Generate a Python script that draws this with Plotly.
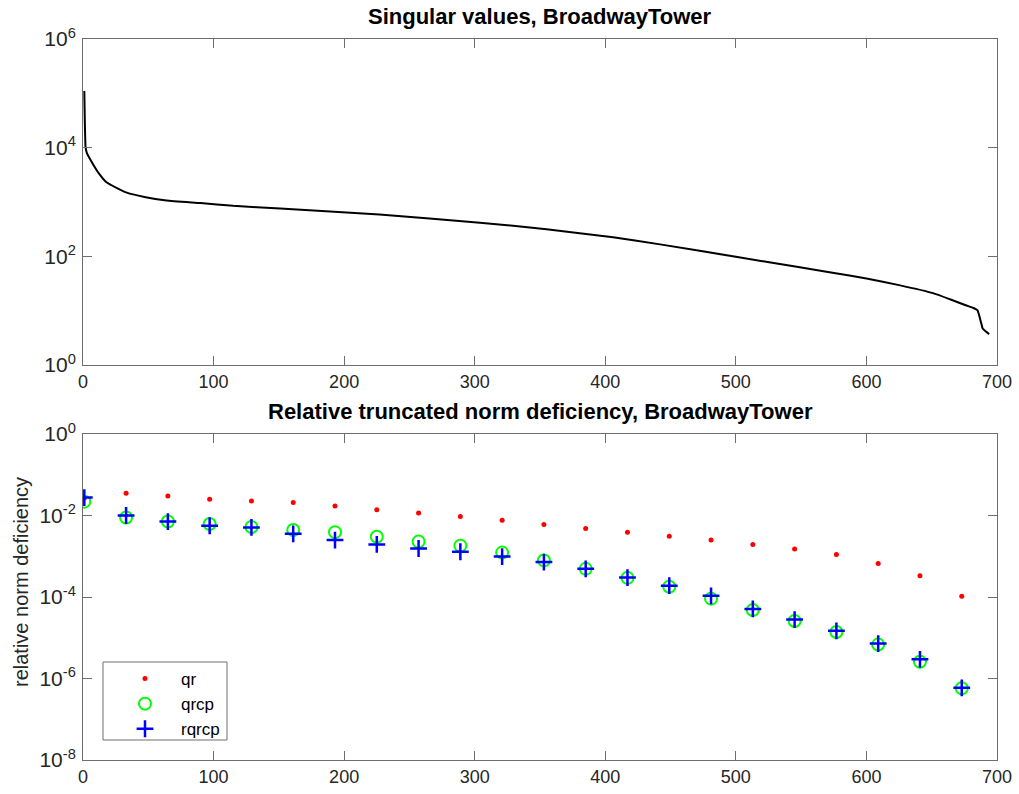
import plotly.graph_objects as go

# ---- data ----
sv_index = [1, 2, 3, 8, 12, 18, 26, 33, 48, 64, 90, 115, 151, 227, 304, 355,
            406, 442, 500, 549, 574, 600, 625, 651, 664, 676, 682, 685, 688,
            689, 694]
sv_values = [1.1e5, 1.0e4, 7.9e3, 4.8e3, 3.4e3, 2.3e3, 1.8e3, 1.5e3, 1.22e3,
             1.07e3, 955, 850, 760, 590, 417, 316, 224, 166, 98, 63, 50, 39,
             29.5, 21, 16.2, 12.6, 11.2, 10.2, 5.8, 4.7, 3.7]

rank_k = [1, 33, 65, 97, 129, 161, 193, 225, 257, 289, 321, 353, 385, 417,
          449, 481, 513, 545, 577, 609, 641, 673]
qr = [2.7e-2, 3.5e-2, 3.0e-2, 2.5e-2, 2.26e-2, 2.09e-2, 1.70e-2, 1.38e-2,
      1.15e-2, 9.5e-3, 7.6e-3, 6.0e-3, 4.8e-3, 3.9e-3, 3.1e-3, 2.5e-3,
      1.95e-3, 1.51e-3, 1.10e-3, 6.6e-4, 3.3e-4, 1.05e-4]
qrcp = [2.19e-2, 8.9e-3, 7.1e-3, 6.2e-3, 5.2e-3, 4.4e-3, 3.9e-3, 3.0e-3,
        2.29e-3, 1.82e-3, 1.23e-3, 7.9e-4, 4.9e-4, 2.95e-4, 1.78e-4, 9.1e-5,
        4.8e-5, 2.57e-5, 1.38e-5, 6.8e-6, 2.57e-6, 5.75e-7]
rqrcp = [2.75e-2, 1.0e-2, 7.1e-3, 5.6e-3, 5.1e-3, 3.55e-3, 2.5e-3, 1.95e-3,
         1.55e-3, 1.29e-3, 9.8e-4, 7.2e-4, 4.9e-4, 3.0e-4, 1.9e-4, 1.07e-4,
         5.1e-5, 2.8e-5, 1.48e-5, 7.2e-6, 2.95e-6, 5.9e-7]

x_ticks = [0, 100, 200, 300, 400, 500, 600, 700]
top_exps = [0, 2, 4, 6]
bot_exps = [-8, -6, -4, -2, 0]

title_top = "Singular values, BroadwayTower"
title_bottom = "Relative truncated norm deficiency, BroadwayTower"
ylabel_bottom = "relative norm deficiency"

W, H = 1019, 794
FONT = "Liberation Sans, Arial, Helvetica, sans-serif"
AXC = "#6e6e6e"
TXC = "#262626"

xdom = [83 / W, 997 / W]
ydom_top = [1 - 365 / H, 1 - 39 / H]
ydom_bot = [1 - 760 / H, 1 - 434 / H]

fig = go.Figure()

fig.add_trace(go.Scatter(x=sv_index, y=sv_values, mode="lines",
                         line=dict(color="black", width=2, shape="spline",
                                   smoothing=0.4),
                         xaxis="x", yaxis="y", showlegend=False))

fig.add_trace(go.Scatter(x=rank_k, y=qr, mode="markers", name="qr",
                         marker=dict(symbol="circle", size=5, color="#ff0000"),
                         xaxis="x2", yaxis="y2"))
fig.add_trace(go.Scatter(x=rank_k, y=qrcp, mode="markers", name="qrcp",
                         marker=dict(symbol="circle-open", size=12,
                                     color="#00ff00",
                                     line=dict(color="#00ff00", width=2)),
                         xaxis="x2", yaxis="y2"))
fig.add_trace(go.Scatter(x=rank_k, y=rqrcp, mode="markers", name="rqrcp",
                         marker=dict(symbol="cross-thin", size=12,
                                     color="#0000ff",
                                     line=dict(color="#0000ff", width=2.5)),
                         xaxis="x2", yaxis="y2"))

axis_common = dict(showline=True, linecolor=AXC, linewidth=1, mirror="ticks",
                   ticks="inside", ticklen=9, tickcolor=AXC, tickwidth=1,
                   showgrid=False, zeroline=False, automargin=False)
xfont = dict(family=FONT, size=18, color=TXC)
yfont = dict(family=FONT, size=21, color=TXC)

fig.update_layout(
    width=W, height=H,
    margin=dict(l=0, r=0, t=0, b=0, autoexpand=False),
    paper_bgcolor="white", plot_bgcolor="white",
    font=dict(family=FONT, color=TXC),
    xaxis=dict(domain=xdom, range=[0, 700], tickvals=x_ticks, anchor="y",
               tickfont=xfont, **axis_common),
    yaxis=dict(domain=ydom_top, type="log", range=[0, 6],
               tickvals=[10.0 ** e for e in top_exps],
               ticktext=["10<sup>%d</sup>" % e for e in top_exps],
               anchor="x", tickfont=yfont, ticklabelstandoff=2,
               **axis_common),
    xaxis2=dict(domain=xdom, range=[0, 700], tickvals=x_ticks, anchor="y2",
                tickfont=xfont, **axis_common),
    yaxis2=dict(domain=ydom_bot, type="log", range=[-8, 0],
                tickvals=[10.0 ** e for e in bot_exps],
                ticktext=["10<sup>%d</sup>" % e for e in bot_exps],
                anchor="x2", tickfont=yfont, ticklabelstandoff=2,
                **axis_common),
    legend=dict(x=109 / W, y=1 - 661 / H, xanchor="left", yanchor="top",
                borderwidth=0, bgcolor="rgba(0,0,0,0)",
                font=dict(family=FONT, size=17, color="black"),
                tracegroupgap=0, itemwidth=62),
    shapes=[dict(type="rect", xref="paper", yref="paper",
                 x0=103 / W, x1=227 / W, y0=1 - 740 / H, y1=1 - 662 / H,
                 line=dict(color=AXC, width=1), fillcolor="white",
                 layer="below")],
    annotations=[
        dict(text="<b>" + title_top + "</b>", x=540 / W, y=1 - 31 / H,
             xref="paper", yref="paper", xanchor="center", yanchor="bottom",
             showarrow=False, font=dict(family=FONT, size=22, color="black")),
        dict(text="<b>" + title_bottom + "</b>", x=540 / W, y=1 - 426 / H,
             xref="paper", yref="paper", xanchor="center", yanchor="bottom",
             showarrow=False, font=dict(family=FONT, size=22, color="black")),
        dict(text=ylabel_bottom, x=21 / W, y=1 - 582 / H, textangle=-90,
             xref="paper", yref="paper", xanchor="center", yanchor="middle",
             showarrow=False, font=dict(family=FONT, size=20, color=TXC)),
    ],
)

fig.write_html("out.html")
